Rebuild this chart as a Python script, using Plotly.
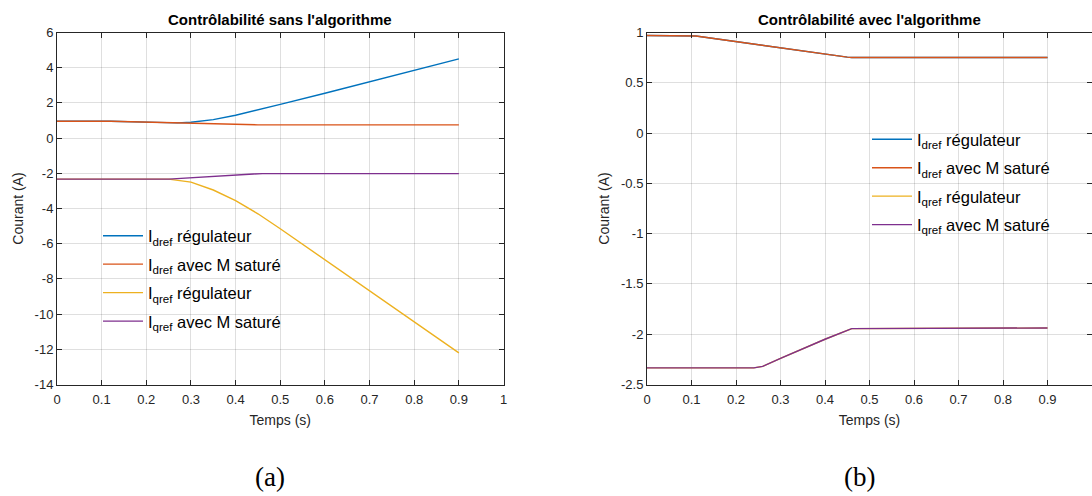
import plotly.graph_objects as go

# ---------------- data : (a) sans l'algorithme ----------------
t_idref_reg_a = [0, 0.12, 0.2, 0.27, 0.3, 0.35, 0.4, 0.45, 0.5, 0.6, 0.7, 0.8, 0.9]
idref_reg_a = [0.96, 0.96, 0.91, 0.865, 0.9, 1.05, 1.3, 1.6, 1.92, 2.55, 3.2, 3.85, 4.5]
t_idref_sat_a = [0, 0.12, 0.45, 0.46, 0.9]
idref_sat_a = [0.96, 0.96, 0.752, 0.75, 0.75]
t_iqref_reg_a = [0, 0.25, 0.3, 0.35, 0.4, 0.45, 0.5, 0.6, 0.7, 0.8, 0.9]
iqref_reg_a = [-2.33, -2.33, -2.5, -2.95, -3.55, -4.3, -5.15, -6.92, -8.68, -10.44, -12.2]
t_iqref_sat_a = [0, 0.25, 0.44, 0.46, 0.9]
iqref_sat_a = [-2.33, -2.33, -2.04, -2.02, -2.02]

# ---------------- data : (b) avec l'algorithme ----------------
t_idref_b = [0, 0.1, 0.11, 0.45, 0.46, 0.9]
idref_reg_b = [0.97, 0.97, 0.965, 0.755, 0.752, 0.752]
idref_sat_b = [0.97, 0.97, 0.965, 0.755, 0.752, 0.752]
t_iqref_b = [0, 0.24, 0.26, 0.3, 0.4, 0.45, 0.46, 0.9]
iqref_reg_b = [-2.335, -2.335, -2.32, -2.24, -2.05, -1.957, -1.944, -1.938]
iqref_sat_b = [-2.335, -2.335, -2.32, -2.24, -2.05, -1.957, -1.944, -1.938]

names = ["I<sub>dref</sub> régulateur", "I<sub>dref</sub> avec M saturé",
         "I<sub>qref</sub> régulateur", "I<sub>qref</sub> avec M saturé"]
colors = ["#0072BD", "#D95319", "#EDB120", "#7E2F8E"]

titles = ["Contrôlabilité sans l'algorithme", "Contrôlabilité avec l'algorithme"]
captions = ["(a)", "(b)"]
xticks = [0, 0.1, 0.2, 0.3, 0.4, 0.5, 0.6, 0.7, 0.8, 0.9, 1]
yticks_a = [6, 4, 2, 0, -2, -4, -6, -8, -10, -12, -14]
yticks_b = [1, 0.5, 0, -0.5, -1, -1.5, -2, -2.5]

W, H = 1092, 496
fig = go.Figure()

series_a = [(t_idref_reg_a, idref_reg_a), (t_idref_sat_a, idref_sat_a),
            (t_iqref_reg_a, iqref_reg_a), (t_iqref_sat_a, iqref_sat_a)]
series_b = [(t_idref_b, idref_reg_b), (t_idref_b, idref_sat_b),
            (t_iqref_b, iqref_reg_b), (t_iqref_b, iqref_sat_b)]

for i, (t, v) in enumerate(series_a):
    fig.add_trace(go.Scatter(x=t, y=v, mode="lines", name=names[i],
                             line=dict(color=colors[i], width=1.4),
                             xaxis="x", yaxis="y", legend="legend",
                             legendgroup="a%d" % i))
for i, (t, v) in enumerate(series_b):
    fig.add_trace(go.Scatter(x=t, y=v, mode="lines", name=names[i],
                             line=dict(color=colors[i], width=1.4),
                             xaxis="x2", yaxis="y2", legend="legend2",
                             legendgroup="b%d" % i))

ytop, ybot = 32.5, 384.5
ydom = [1 - ybot / H, 1 - ytop / H]
xdom_a = [57 / W, 503.5 / W]
xdom_b = [647 / W, 1.0]

FONT = "Liberation Sans"
axis_common = dict(
    showgrid=True, gridcolor="rgba(38,38,38,0.15)", gridwidth=1,
    showline=True, linecolor="#262626", linewidth=1, mirror="allticks",
    ticks="inside", ticklen=5, tickcolor="#262626", automargin=False,
    tickfont=dict(family=FONT, size=13, color="#262626"),
    zeroline=False,
)
lab_font = dict(family=FONT, size=14, color="#262626")

fig.update_layout(
    width=W, height=H, margin=dict(l=0, r=0, t=0, b=0),
    paper_bgcolor="white", plot_bgcolor="white",
    xaxis=dict(domain=xdom_a, range=[0, 1], tickvals=xticks,
               ticktext=[f"{v:g}" for v in xticks], anchor="y",
               ticklabelstandoff=3,
               title=dict(text="Temps (s)", standoff=9, font=lab_font),
               **axis_common),
    yaxis=dict(domain=ydom, range=[-14, 6], tickvals=yticks_a,
               ticktext=[f"{v:g}" for v in yticks_a], anchor="x",
               title=dict(text="Courant (A)", standoff=7, font=lab_font),
               **axis_common),
    xaxis2=dict(domain=xdom_b, range=[0, 1], tickvals=xticks,
                ticktext=[f"{v:g}" for v in xticks], anchor="y2",
                ticklabelstandoff=3,
                title=dict(text="Temps (s)", standoff=9, font=lab_font),
                **axis_common),
    yaxis2=dict(domain=ydom, range=[-2.5, 1], tickvals=yticks_b,
                ticktext=[f"{v:g}" for v in yticks_b], anchor="x2",
                title=dict(text="Courant (A)", standoff=8, font=lab_font),
                **axis_common),
    legend=dict(x=98 / W, y=1 - 218.5 / H, xanchor="left", yanchor="top",
                bgcolor="rgba(0,0,0,0)", borderwidth=0,
                font=dict(family=FONT, size=16.5, color="#000000"),
                traceorder="grouped", tracegroupgap=4, itemwidth=40),
    legend2=dict(x=867 / W, y=1 - 122 / H, xanchor="left", yanchor="top",
                 bgcolor="rgba(0,0,0,0)", borderwidth=0,
                 font=dict(family=FONT, size=16.5, color="#000000"),
                 traceorder="grouped", tracegroupgap=4, itemwidth=40),
    showlegend=True,
)

annotations = []
centers = [(57 + 503.5) / 2, (647 + 1093) / 2]
for i in range(2):
    annotations.append(dict(text="<b>%s</b>" % titles[i], x=centers[i] / W, y=1 - 19 / H,
                            xref="paper", yref="paper", showarrow=False,
                            xanchor="center", yanchor="middle",
                            font=dict(family=FONT, size=15, color="#000000")))
cap_x = [270, 859]
for i in range(2):
    annotations.append(dict(text=captions[i], x=cap_x[i] / W, y=1 - 477 / H,
                            xref="paper", yref="paper", showarrow=False,
                            xanchor="center", yanchor="middle",
                            font=dict(family="Liberation Serif", size=27, color="#000000")))
fig.update_layout(annotations=annotations)

fig.write_html("out.html", config={"displayModeBar": False},
               post_script="document.body.style.margin='0px';document.body.style.overflow='hidden';")
